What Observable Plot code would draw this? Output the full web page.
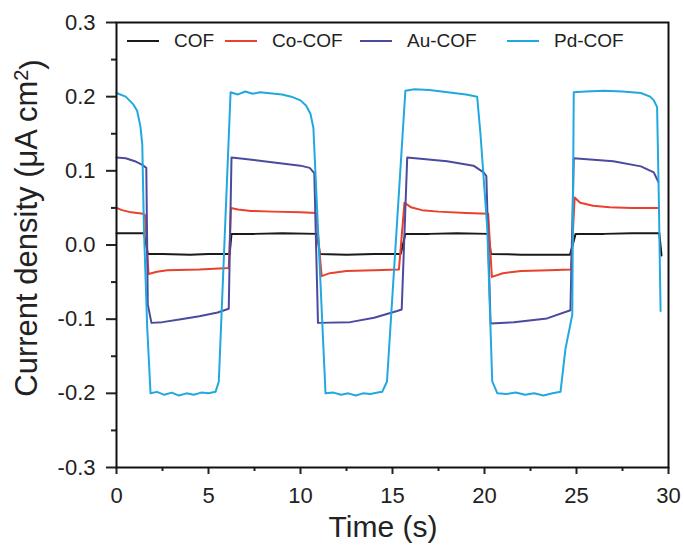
<!DOCTYPE html>
<html>
<head>
<meta charset="utf-8">
<script src="https://cdn.jsdelivr.net/npm/d3@7"></script>
<script src="https://cdn.jsdelivr.net/npm/@observablehq/plot@0.6"></script>
<style>
  html, body { margin: 0; padding: 0; background: #fff; }
  #wrap { position: relative; width: 684px; height: 546px; font-family: "Liberation Sans", Arial, sans-serif; }
  .leg { position: absolute; display: flex; align-items: center; font-size: 19px; color: #222; white-space: nowrap; }
  .leg .sw { display: inline-block; width: 32px; height: 0; border-top: 2.5px solid; margin-right: 15px; }
</style>
</head>
<body>
<div id="wrap"></div>
<script>
// ---- data ----
const seriesNames = ["COF", "Co-COF", "Au-COF", "Pd-COF"];
const seriesColors = ["#1a1a1a", "#e8412c", "#4b4a9e", "#21a8df"];

const cofTime  = [0, 1.5, 1.7, 2.5, 4.0, 5.0, 6.15, 6.25, 7.5, 9.0, 10.9, 11.05, 12.5, 14.0, 15.45, 15.7, 17.0, 18.5, 20.2, 20.35, 22.0, 23.5, 24.65, 24.95, 26.5, 28.0, 29.5, 29.62];
const cofValue = [0.016, 0.016, -0.012, -0.012, -0.013, -0.012, -0.012, 0.015, 0.015, 0.016, 0.015, -0.012, -0.013, -0.012, -0.012, 0.015, 0.015, 0.016, 0.015, -0.012, -0.013, -0.013, -0.013, 0.015, 0.015, 0.016, 0.016, -0.014];

const coTime  = [0, 0.3, 0.8, 1.45, 1.55, 1.74, 2.2, 2.75, 4.5, 6.1, 6.22, 6.6, 7.3, 8.5, 10.0, 10.85, 11.15, 11.6, 12.5, 14.0, 15.35, 15.65, 16.0, 16.6, 17.5, 19.0, 20.2, 20.4, 21.0, 22.0, 23.5, 24.7, 24.9, 25.2, 25.9, 26.8, 28.0, 29.45];
const coValue = [0.05, 0.047, 0.044, 0.042, 0.04, -0.039, -0.036, -0.034, -0.033, -0.031, 0.05, 0.048, 0.046, 0.045, 0.044, 0.043, -0.042, -0.038, -0.035, -0.034, -0.033, 0.057, 0.051, 0.047, 0.045, 0.043, 0.042, -0.043, -0.038, -0.035, -0.034, -0.033, 0.064, 0.057, 0.053, 0.051, 0.05, 0.05];

const auTime  = [0, 0.5, 1.0, 1.4, 1.62, 1.7, 1.9, 2.5, 3.5, 4.5, 5.5, 6.1, 6.25, 7.0, 8.0, 9.0, 10.0, 10.5, 10.75, 10.95, 12.7, 14.0, 15.25, 15.5, 15.8, 17.97, 19.4, 19.95, 20.1, 20.33, 21.6, 23.4, 24.67, 24.85, 27.0, 28.5, 29.2, 29.45];
const auValue = [0.118, 0.117, 0.113, 0.108, 0.104, -0.08, -0.105, -0.104, -0.1, -0.096, -0.091, -0.086, 0.118, 0.116, 0.113, 0.11, 0.107, 0.104, 0.097, -0.105, -0.104, -0.098, -0.089, -0.087, 0.118, 0.113, 0.107, 0.098, 0.093, -0.106, -0.104, -0.099, -0.088, 0.117, 0.113, 0.106, 0.098, 0.085];

const pdTime  = [0, 0.5, 0.9, 1.12, 1.3, 1.4, 1.49, 1.67, 1.85, 2.2, 2.6, 3.0, 3.4, 3.8, 4.2, 4.6, 5.0, 5.38, 5.56, 6.2, 6.6, 7.0, 7.4, 7.8, 8.2, 8.6, 9.0, 9.5, 10.0, 10.3, 10.54, 10.7, 11.36, 11.8, 12.2, 12.6, 13.0, 13.4, 13.8, 14.2, 14.44, 14.7, 15.7, 16.2, 17.0, 18.0, 19.0, 19.6, 19.78, 20.15, 20.42, 20.7, 21.2, 21.7, 22.2, 22.7, 23.2, 23.7, 24.13, 24.4, 24.77, 24.85, 25.5, 26.5, 27.5, 28.5, 29.0, 29.2, 29.38, 29.47, 29.57];
const pdValue = [0.205, 0.2, 0.19, 0.181, 0.16, 0.136, 0.023, -0.112, -0.2, -0.198, -0.202, -0.199, -0.203, -0.2, -0.202, -0.199, -0.2, -0.198, -0.184, 0.206, 0.203, 0.207, 0.204, 0.206, 0.205, 0.204, 0.203, 0.2, 0.195, 0.188, 0.177, 0.158, -0.2, -0.199, -0.202, -0.2, -0.203, -0.2, -0.201, -0.199, -0.198, -0.184, 0.208, 0.21, 0.209, 0.206, 0.203, 0.2, 0.15, 0.023, -0.184, -0.2, -0.201, -0.199, -0.202, -0.2, -0.203, -0.2, -0.198, -0.14, -0.094, 0.206, 0.207, 0.208, 0.207, 0.205, 0.2, 0.195, 0.186, 0.068, -0.089];

const xTicks = [0, 5, 10, 15, 20, 25, 30];
const xMinorTicks = [2.5, 7.5, 12.5, 17.5, 22.5, 27.5];
const yTicks = [-0.3, -0.2, -0.1, 0.0, 0.1, 0.2, 0.3];
const yMinorTicks = [-0.25, -0.15, -0.05, 0.05, 0.15, 0.25];

// ---- build table ----
const seriesData = [
  [cofTime, cofValue], [coTime, coValue], [auTime, auValue], [pdTime, pdValue]
];
const rows = seriesData.flatMap(([ts, vs], i) =>
  ts.map((t, j) => ({ series: seriesNames[i], t, v: vs[j] })));

const font = '"Liberation Sans", Arial, sans-serif';

const chart = Plot.plot({
  width: 684,
  height: 546,
  marginLeft: 116,
  marginRight: 16,
  marginTop: 22,
  marginBottom: 79,
  style: { fontFamily: font, color: "#222", background: "#fff", overflow: "visible" },
  x: { domain: [0, 30] },
  y: { domain: [-0.3, 0.3] },
  color: { domain: seriesNames, range: seriesColors },
  marks: [
    Plot.axisY({ ticks: yTicks, tickFormat: d => d.toFixed(1), tickSize: 10, tickPadding: 11, fontSize: 22, strokeWidth: 2, label: null }),
    Plot.axisY({ ticks: yMinorTicks, tickFormat: () => "", tickSize: 5, strokeWidth: 2, label: null }),
    Plot.axisX({ ticks: xTicks, tickFormat: d => String(d), tickSize: 7, tickPadding: 13, fontSize: 22, strokeWidth: 2, label: null }),
    Plot.axisX({ ticks: xMinorTicks, tickFormat: () => "", tickSize: 4, strokeWidth: 2, label: null }),
    Plot.line(rows, { x: "t", y: "v", z: "series", stroke: "series", strokeWidth: 2, curve: "linear" }),
    Plot.frame({ stroke: "#111", strokeWidth: 2 })
  ]
});

const wrap = document.getElementById("wrap");
wrap.appendChild(chart);

// axis titles
const svg = d3.select(chart);
const yl = svg.append("text")
  .attr("transform", "translate(37,228) rotate(-90)")
  .attr("text-anchor", "middle")
  .attr("font-family", font)
  .attr("font-size", 31)
  .attr("fill", "#222");
yl.append("tspan").text("Current density (μA cm");
yl.append("tspan").attr("dy", "-0.45em").attr("font-size", 20).text("2");
yl.append("tspan").attr("dy", "0.45em").text(")");

svg.append("text")
  .attr("x", 383).attr("y", 537)
  .attr("text-anchor", "middle")
  .attr("font-family", font)
  .attr("font-size", 30)
  .attr("fill", "#222")
  .text("Time (s)");

// legend
const legendX = [127, 225, 360, 507];
seriesNames.forEach((name, i) => {
  const d = document.createElement("div");
  d.className = "leg";
  d.style.left = legendX[i] + "px";
  d.style.top = "29px";
  d.style.height = "24px";
  const sw = document.createElement("span");
  sw.className = "sw";
  sw.style.borderTopColor = seriesColors[i];
  d.appendChild(sw);
  const lab = document.createElement("span");
  lab.textContent = name;
  d.appendChild(lab);
  wrap.appendChild(d);
});
</script>
</body>
</html>
